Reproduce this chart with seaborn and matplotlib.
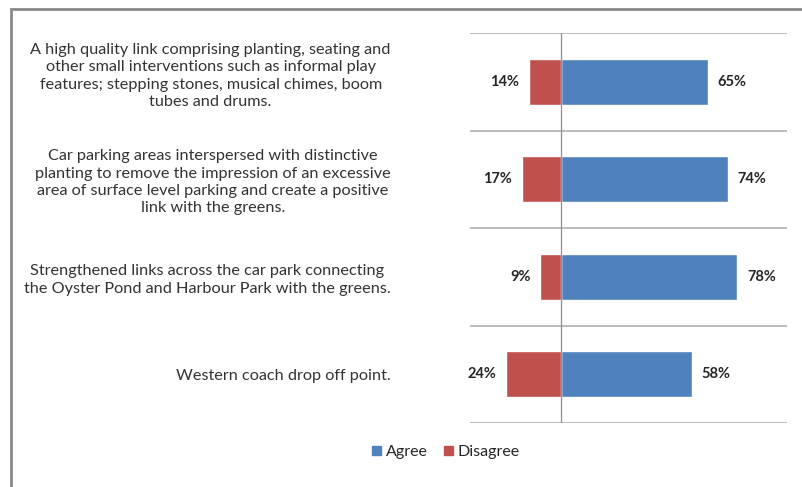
import matplotlib
matplotlib.use("Agg")
import matplotlib.pyplot as plt
import matplotlib.transforms as mtransforms
from matplotlib.patches import Rectangle, Patch
import seaborn as sns
import pandas as pd

# data
categories = [
    "A high quality link comprising planting, seating and\n"
    "other small interventions such as informal play\n"
    "features; stepping stones, musical chimes, boom\n"
    "tubes and drums.",
    "Car parking areas interspersed with distinctive\n"
    "planting to remove the impression of an excessive\n"
    "area of surface level parking and create a positive\n"
    "link with the greens.",
    "Strengthened links across the car park connecting\n"
    "the Oyster Pond and Harbour Park with the greens.",
    "Western coach drop off point.",
]
agree = [65, 74, 78, 58]
disagree = [14, 17, 9, 24]

blue = "#4F81BD"
red = "#C0504D"

sns.set_style("white")
plt.rcParams["font.family"] = ["Lato", "DejaVu Sans"]

df = pd.DataFrame({"cat": categories, "agree": agree,
                   "disagree": [-v for v in disagree]})

fig = plt.figure(figsize=(8.03, 4.87), dpi=100)
W, H = 803, 487
ax = fig.add_axes([470 / W, 1 - 423 / H, (787 - 470) / W, (423 - 33) / H])

# blue bars to the right, red bars to the left of zero
sns.barplot(data=df, x="agree", y="cat", color=blue, width=0.47,
            orient="h", ax=ax, saturation=1)
sns.barplot(data=df, x="disagree", y="cat", color=red, width=0.47,
            orient="h", ax=ax, saturation=1)

ax.set_xlim(-40, 100)
ax.set_ylim(len(categories) - 0.5, -0.5)
ax.set_xlabel("")
ax.set_ylabel("")
ax.set_xticks([])
for s in ax.spines.values():
    s.set_visible(False)

# row separators and the zero line
for i in range(len(categories) + 1):
    ax.axhline(i - 0.5, color="#b0b0b0", lw=1.2, zorder=0)
ax.axvline(0, color="#8c8c9c", lw=0.9, zorder=3)

# value labels
ax.bar_label(ax.containers[0], labels=[f"{v}%" for v in agree],
             padding=7, fontsize=10.5, fontweight="bold", color="#262626")
ax.bar_label(ax.containers[1], labels=[f"{v}%" for v in disagree],
             padding=7, fontsize=10.5, fontweight="bold", color="#262626")

# category labels, right aligned, lines centred
ax.tick_params(axis="y", length=0, pad=57)
for k, lab in enumerate(ax.get_yticklabels()):
    lab.set_multialignment("center")
    lab.set_linespacing(1.3)
    lab.set_fontsize(11.7)
    lab.set_color("#333333")
    if k == 0:
        lab.set_transform(lab.get_transform() +
                          mtransforms.ScaledTranslation(0, 9 / 100, fig.dpi_scale_trans))

# legend
handles = [Patch(color=blue, label="Agree"), Patch(color=red, label="Disagree")]
fig.legend(handles=handles, loc="center", bbox_to_anchor=(446 / W, 1 - 452 / H),
           ncol=2, frameon=False, fontsize=11.5, handlelength=0.55, handleheight=0.55,
           handletextpad=0.3, columnspacing=1.0)

# chart area border
fig.patches.append(Rectangle((11 / W, -0.05), 1.2, 1 - 9 / H + 0.05,
                             transform=fig.transFigure, fill=False,
                             edgecolor="#8a8a8a", lw=2))

fig.savefig("out.png", dpi=100)
